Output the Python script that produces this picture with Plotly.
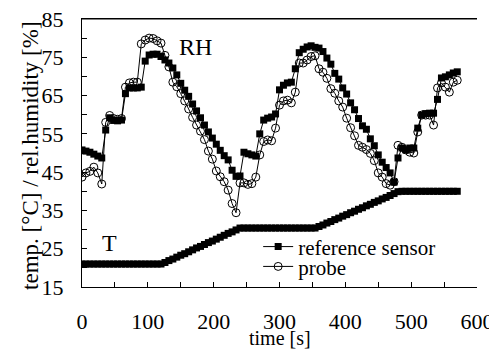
import plotly.graph_objects as go

# time [s]
time_s = [0, 6, 12, 18, 24, 30, 36, 42, 48, 54, 60, 66, 72, 78, 84, 90, 96, 102, 108, 114,
          120, 126, 132, 138, 144, 150, 156, 162, 168, 174, 180, 186, 192, 198, 204, 210, 216, 222, 228, 234,
          240, 246, 252, 258, 264, 270, 276, 282, 288, 294, 300, 306, 312, 318, 324, 330, 336, 342, 348, 354,
          360, 366, 372, 378, 384, 390, 396, 402, 408, 414, 420, 426, 432, 438, 444, 450, 456, 462, 468, 474,
          480, 486, 492, 498, 504, 510, 516, 522, 528, 534, 540, 546, 552, 558, 564, 570]

# relative humidity, reference sensor [%]
rh_reference = [50.8, 50.5, 50.2, 49.7, 49.2, 48.7, 56.0, 59.2, 58.5, 58.4, 58.6, 65.5, 67.0, 67.0, 67.0, 67.2, 74.0, 75.6, 75.8, 75.8,
                75.2, 74.3, 73.5, 72.2, 70.4, 68.2, 66.4, 64.8, 62.8, 61.0, 59.2, 57.3, 55.5, 53.9, 52.3, 50.7, 49.3, 48.2, 45.5, 43.9,
                44.0, 50.2, 49.8, 49.5, 49.2, 55.0, 58.6, 59.1, 59.4, 60.2, 66.5, 67.7, 68.3, 68.5, 72.0, 76.2, 77.1, 77.7, 78.0, 77.6,
                77.4, 76.5, 74.8, 73.2, 70.8, 69.3, 67.0, 65.4, 63.1, 61.3, 59.0, 57.1, 56.2, 53.7, 51.9, 49.5, 47.6, 46.2, 44.8, 42.4,
                48.7, 51.3, 50.8, 51.3, 51.3, 56.5, 59.9, 60.3, 60.4, 60.4, 64.0, 69.6, 69.9, 70.4, 70.9, 71.2]

# relative humidity, probe [%]
rh_probe = [43.7, 44.8, 45.2, 46.3, 44.8, 41.9, 58.0, 59.8, 59.0, 58.8, 59.0, 67.2, 68.3, 68.5, 68.5, 78.5, 79.5, 80.0, 79.9, 79.3,
            78.7, 75.5, 72.5, 68.5, 67.3, 65.5, 63.6, 61.5, 59.3, 57.3, 55.7, 53.5, 50.5, 48.4, 45.3, 43.8, 42.5, 40.3, 36.8, 34.4,
            42.2, 42.2, 41.8, 42.0, 43.7, 49.5, 53.0, 53.4, 53.2, 56.5, 62.5, 63.6, 63.8, 63.1, 65.9, 73.5, 73.5, 74.3, 75.2, 75.4,
            72.0, 71.1, 69.5, 66.8, 65.6, 63.6, 62.0, 59.1, 56.6, 54.5, 52.0, 51.5, 50.9, 49.9, 48.0, 44.8, 43.7, 42.0, 41.6, 42.5,
            52.0, 51.5, 50.8, 50.2, 50.0, 55.5, 59.9, 59.9, 59.9, 57.3, 67.0, 68.3, 67.2, 65.9, 68.5, 69.0]

# temperature, reference sensor [°C]
t_reference = [21.0, 21.0, 21.0, 21.0, 21.0, 21.0, 21.0, 21.0, 21.0, 21.0, 21.0, 21.0, 21.0, 21.0, 21.0, 21.0, 21.0, 21.0, 21.0, 21.0,
               21.0, 21.4, 21.9, 22.3, 22.8, 23.3, 23.7, 24.2, 24.7, 25.2, 25.6, 26.1, 26.6, 27.0, 27.5, 28.0, 28.5, 29.0, 29.4, 29.9,
               30.4, 30.4, 30.4, 30.4, 30.4, 30.4, 30.4, 30.4, 30.4, 30.4, 30.4, 30.4, 30.4, 30.4, 30.4, 30.4, 30.4, 30.4, 30.4, 30.4,
               30.8, 31.2, 31.7, 32.1, 32.6, 33.0, 33.5, 33.9, 34.4, 34.8, 35.3, 35.7, 36.2, 36.6, 37.1, 37.5, 38.0, 38.4, 38.9, 39.4,
               39.9, 40.0, 40.0, 40.0, 40.0, 40.0, 40.0, 40.0, 40.0, 40.0, 40.0, 40.0, 40.0, 40.0, 40.0, 40.0]

x_ticks = [0, 100, 200, 300, 400, 500, 600]
y_ticks = [15, 25, 35, 45, 55, 65, 75, 85]

FONT = "Liberation Serif"

fig = go.Figure()
fig.add_trace(go.Scatter(x=time_s, y=rh_reference, mode="lines+markers", name="reference sensor",
                         legend="legend",
                         line=dict(color="black", width=1),
                         marker=dict(symbol="square", size=7, color="black")))
fig.add_trace(go.Scatter(x=time_s, y=rh_probe, mode="lines+markers", name="probe",
                         legend="legend2",
                         line=dict(color="black", width=1),
                         marker=dict(symbol="circle-open", size=8, color="black", line=dict(width=1))))
fig.add_trace(go.Scatter(x=time_s, y=t_reference, mode="lines+markers", name="T reference", showlegend=False,
                         line=dict(color="black", width=1),
                         marker=dict(symbol="square", size=7, color="black")))

fig.add_annotation(x=172, y=77.7, text="RH", showarrow=False, xref="x", yref="y",
                   font=dict(family=FONT, size=24, color="black"))
fig.add_annotation(x=42, y=26.5, text="T", showarrow=False, xref="x", yref="y",
                   font=dict(family=FONT, size=24, color="black"))
fig.add_annotation(x=0.5, y=-0.192, xref="paper", yref="paper", text="time [s]", showarrow=False,
                   xanchor="center", yanchor="middle", font=dict(family=FONT, size=20, color="black"))
fig.add_annotation(x=-0.131, y=0.49, xref="paper", yref="paper", text="temp. [°C] / rel.humidity [%]",
                   showarrow=False, textangle=-90, xanchor="center", yanchor="middle",
                   font=dict(family=FONT, size=23, color="black"))

# top frame line
fig.add_shape(type="line", xref="paper", yref="paper", x0=0, x1=1, y0=1, y1=1,
              line=dict(color="black", width=1))

leg_common = dict(xanchor="left", yanchor="top", bgcolor="rgba(0,0,0,0)",
                  font=dict(family=FONT, size=21, color="black"), itemwidth=30)

# the page body has an 8 px margin: the figure is sized/offset to fill the 497x352 window
fig.update_layout(
    width=489, height=344,
    margin=dict(l=74, r=20, t=11, b=65, autoexpand=False),
    paper_bgcolor="white", plot_bgcolor="white",
    font=dict(family=FONT, size=21, color="black"),
    showlegend=True,
    legend=dict(x=0.446, y=0.226, **leg_common),
    legend2=dict(x=0.446, y=0.152, **leg_common),
    xaxis=dict(range=[0, 600], tickvals=x_ticks, ticks="inside", ticklen=5, tickcolor="black",
               showline=True, linecolor="black", linewidth=1, mirror=True, showgrid=False, zeroline=False,
               minor=dict(dtick=50, tick0=0, ticks="inside", ticklen=5, tickcolor="black"),
               ticklabelstandoff=15, automargin=False, ticklabeloverflow="allow",
               tickfont=dict(family=FONT, size=22)),
    yaxis=dict(range=[15, 85], tickvals=y_ticks, ticks="inside", ticklen=5, tickcolor="black",
               showline=True, linecolor="black", linewidth=1, showgrid=False, zeroline=False,
               minor=dict(dtick=5, tick0=15, ticks="inside", ticklen=5, tickcolor="black"),
               ticklabelstandoff=13, automargin=False, ticklabeloverflow="allow",
               tickfont=dict(family=FONT, size=22)),
)

fig.write_html("out.html")
